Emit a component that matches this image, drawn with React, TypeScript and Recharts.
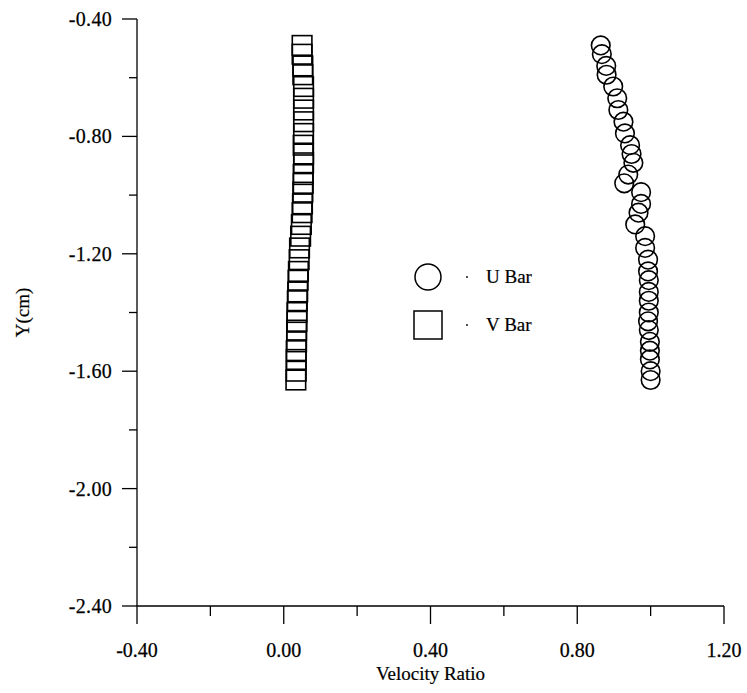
import React from 'react';
import { ScatterChart, Scatter, XAxis, YAxis, Legend } from 'recharts';

// Depth positions of the traverse (cm), shared by both velocity components
const depthCm = [
  -0.49, -0.52, -0.56, -0.59, -0.63, -0.67, -0.71, -0.75, -0.79, -0.83, -0.86,
  -0.89, -0.93, -0.96, -0.99, -1.03, -1.06, -1.10, -1.14, -1.18, -1.22, -1.26,
  -1.29, -1.33, -1.36, -1.40, -1.43, -1.46, -1.50, -1.53, -1.56, -1.60, -1.63,
];

// Streamwise mean velocity ratio
const uBar = [
  0.864, 0.867, 0.879, 0.880, 0.898, 0.909, 0.912, 0.926, 0.930, 0.944, 0.948,
  0.953, 0.939, 0.928, 0.974, 0.974, 0.967, 0.958, 0.985, 0.985, 0.993, 0.993,
  0.995, 0.995, 0.995, 0.995, 0.993, 0.995, 0.998, 0.998, 0.998, 1.0, 1.0,
];

// Transverse mean velocity ratio
const vBar = [
  0.050, 0.050, 0.052, 0.052, 0.054, 0.054, 0.054, 0.054, 0.054, 0.053, 0.054,
  0.054, 0.053, 0.053, 0.052, 0.051, 0.050, 0.048, 0.046, 0.043, 0.042, 0.040,
  0.039, 0.038, 0.037, 0.036, 0.036, 0.035, 0.035, 0.034, 0.034, 0.034, 0.033,
];

const xTicks = [-0.4, -0.2, 0, 0.2, 0.4, 0.6, 0.8, 1.0, 1.2];
const xLabels = [-0.4, 0, 0.4, 0.8, 1.2];
const yTicks = [-2.4, -2.2, -2.0, -1.8, -1.6, -1.4, -1.2, -1.0, -0.8, -0.6, -0.4];
const yLabels = [-2.4, -2.0, -1.6, -1.2, -0.8, -0.4];

const uPoints = depthCm.map((y, i) => ({ x: uBar[i], y }));
const vPoints = depthCm.map((y, i) => ({ x: vBar[i], y }));

const FONT = '"Liberation Serif", "Times New Roman", serif';
const INK = '#000';

const isMajor = (list: number[], v: number) => list.some((m) => Math.abs(m - v) < 1e-6);

const XTick = (props: any) => {
  const { x, y, payload } = props;
  const major = isMajor(xLabels, payload.value);
  return (
    <g>
      <line x1={x} y1={y} x2={x} y2={y + (major ? 18 : 10)} stroke={INK} strokeWidth={1.3} />
      {major && (
        <text x={x} y={y + 51} textAnchor="middle" fontSize={20} fontFamily={FONT} fill={INK}
          stroke={INK} strokeWidth={0.25}>
          {payload.value.toFixed(2)}
        </text>
      )}
    </g>
  );
};

const YTick = (props: any) => {
  const { x, y, payload } = props;
  const major = isMajor(yLabels, payload.value);
  return (
    <g>
      <line x1={x} y1={y} x2={x - (major ? 15 : 8)} y2={y} stroke={INK} strokeWidth={1.3} />
      {major && (
        <text x={x - 25} y={y + 7} textAnchor="end" fontSize={20} fontFamily={FONT} fill={INK}
          stroke={INK} strokeWidth={0.25} letterSpacing={0.3}>
          {payload.value.toFixed(2)}
        </text>
      )}
    </g>
  );
};

const YTitle = (props: any) => {
  const { viewBox } = props;
  const cx = viewBox.x + 8;
  const cy = viewBox.y + viewBox.height / 2;
  return (
    <text x={cx} y={cy} transform={`rotate(-90 ${cx} ${cy})`} textAnchor="middle" dominantBaseline="middle"
      fontSize={19} fontFamily={FONT} fill={INK} stroke={INK} strokeWidth={0.2}>
      Y(cm)
    </text>
  );
};

const XTitle = (props: any) => {
  const { viewBox } = props;
  return (
    <text x={viewBox.x + viewBox.width / 2} y={viewBox.y + 74} textAnchor="middle"
      fontSize={19} fontFamily={FONT} fill={INK} stroke={INK} strokeWidth={0.2}>
      Velocity Ratio
    </text>
  );
};

const CircleMark = (props: any) => (
  <circle cx={props.cx} cy={props.cy} r={9.3} fill="none" stroke={INK} strokeWidth={1.6} />
);

const SquareMark = (props: any) => (
  <rect x={props.cx - 9.8} y={props.cy - 9.8} width={19.6} height={19.6} fill="none" stroke={INK} strokeWidth={1.6} />
);

const renderLegend = (props: any) => {
  const { payload = [] } = props;
  return (
    <div style={{ fontFamily: FONT, fontSize: 19, color: INK, WebkitTextStroke: '0.2px #000' }}>
      {payload.map((entry: any) => (
        <div key={entry.value} style={{ display: 'flex', alignItems: 'center', height: 48 }}>
          <svg width={74} height={48}>
            {entry.value === 'U Bar' ? (
              <circle cx={16} cy={24} r={13} fill="none" stroke={INK} strokeWidth={1.5} />
            ) : (
              <rect x={2} y={10} width={28} height={28} fill="none" stroke={INK} strokeWidth={1.5} />
            )}
            <circle cx={55} cy={24} r={0.9} fill={INK} />
          </svg>
          <span>{entry.value}</span>
        </div>
      ))}
    </div>
  );
};

export default function App() {
  const W = 747;
  const H = 693;
  return (
    <div style={{ width: W, height: H, background: '#fff' }}>
      <style>{'body { margin: 0; overflow: hidden; }'}</style>
      <ScatterChart width={W} height={H} margin={{ top: 19, right: 23, bottom: 5, left: 17 }}>
        <XAxis
          type="number"
          dataKey="x"
          domain={[-0.4, 1.2]}
          ticks={xTicks}
          interval={0}
          tickSize={0}
          tickMargin={0}
          tickLine={false}
          tick={<XTick />}
          axisLine={{ stroke: INK, strokeWidth: 1.3 }}
          height={82}
          allowDataOverflow
          label={<XTitle />}
        />
        <YAxis
          type="number"
          dataKey="y"
          domain={[-2.4, -0.4]}
          ticks={yTicks}
          interval={0}
          tickSize={0}
          tickMargin={0}
          tickLine={false}
          tick={<YTick />}
          axisLine={{ stroke: INK, strokeWidth: 1.3 }}
          width={120}
          allowDataOverflow
          label={<YTitle />}
        />
        <Legend
          layout="vertical"
          align="center"
          verticalAlign="middle"
          content={renderLegend}
          wrapperStyle={{ left: 412, top: 253, width: 140 }}
        />
        <Scatter name="U Bar" data={uPoints} shape={CircleMark} isAnimationActive={false} />
        <Scatter name="V Bar" data={vPoints} shape={SquareMark} isAnimationActive={false} />
      </ScatterChart>
    </div>
  );
}
